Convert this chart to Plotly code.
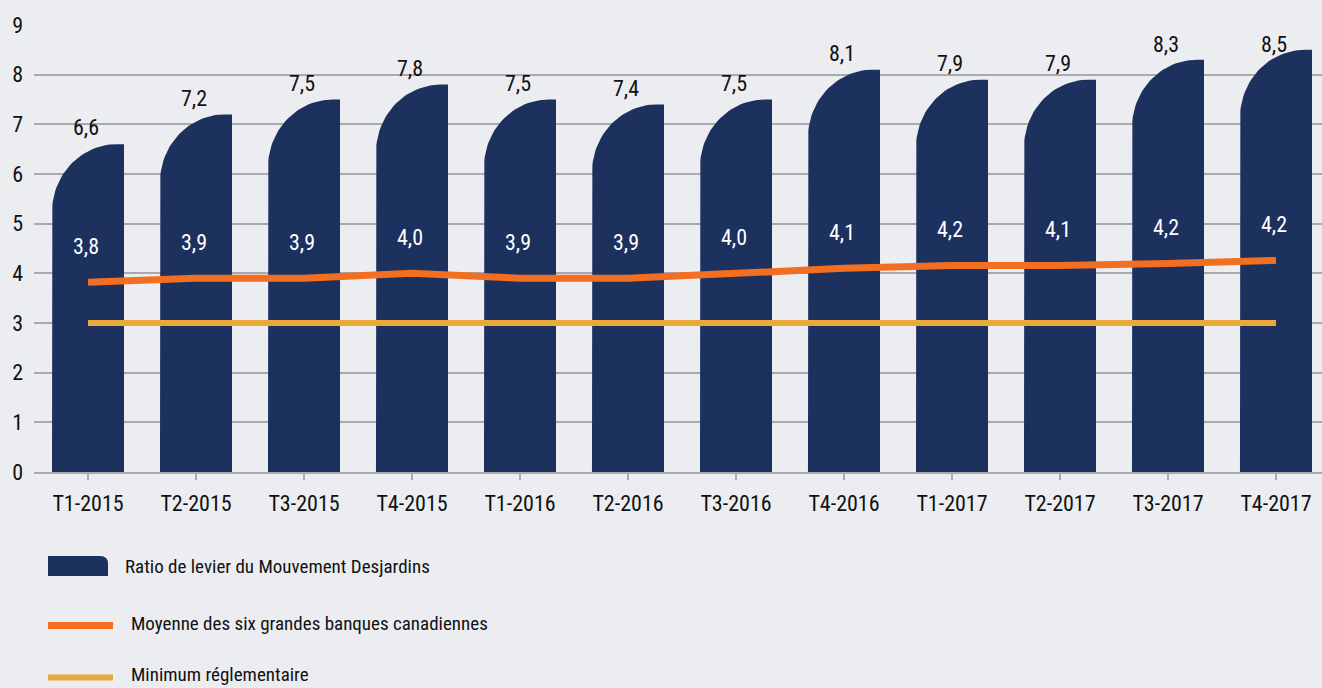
import numpy as np
import plotly.graph_objects as go

categories = ["T1-2015", "T2-2015", "T3-2015", "T4-2015", "T1-2016", "T2-2016",
              "T3-2016", "T4-2016", "T1-2017", "T2-2017", "T3-2017", "T4-2017"]
desjardins = [6.6, 7.2, 7.5, 7.8, 7.5, 7.4, 7.5, 8.1, 7.9, 7.9, 8.3, 8.5]
desjardins_labels = ["6,6", "7,2", "7,5", "7,8", "7,5", "7,4", "7,5", "8,1", "7,9", "7,9", "8,3", "8,5"]
banks_avg = [3.82, 3.9, 3.9, 4.0, 3.9, 3.9, 4.0, 4.1, 4.16, 4.16, 4.2, 4.26]
banks_labels = ["3,8", "3,9", "3,9", "4,0", "3,9", "3,9", "4,0", "4,1", "4,2", "4,1", "4,2", "4,2"]
minimum = [3.0] * 12
yticks = [0, 1, 2, 3, 4, 5, 6, 7, 8, 9]

series_names = ["Ratio de levier du Mouvement Desjardins",
                "Moyenne des six grandes banques canadiennes",
                "Minimum réglementaire"]

NAVY = "#1C315E"
ORANGE = "#F26F22"
GOLD = "#E9A93B"
BG = "#ECEDF1"
GRID = "#A9AAAE"
TXT = "#111111"
FONT = "Roboto Condensed, Liberation Sans Narrow, sans-serif"

W, H = 1322, 688
ML, MR, MT, MB = 34, 0, 25, 216
PW = W - ML - MR
PH = H - MT - MB

xpos = list(range(len(categories)))
bar_w = 0.667
rx = 0.60   # horizontal radius of rounded top-left corner (category units)
ry = 1.37   # vertical radius (value units)

# Bar outlines (square bottom, rounded top-left) built from the data values
bx, by = [], []
t = np.linspace(0, np.pi / 2, 30)
for xi, v in zip(xpos, desjardins):
    left, right = xi - bar_w / 2, xi + bar_w / 2
    bx += [left, left]
    by += [0, v - ry]
    bx += list(left + rx - rx * np.cos(t))
    by += list(v - ry + ry * np.sin(t))
    bx += [right, right, left, None]
    by += [v, 0, 0, None]

fig = go.Figure()
fig.add_trace(go.Scatter(x=bx, y=by, mode="lines", fill="toself", fillcolor=NAVY,
                         line=dict(width=0, color=NAVY), name=series_names[0],
                         hoverinfo="skip", showlegend=False))
fig.add_trace(go.Scatter(x=xpos, y=minimum, mode="lines", line=dict(color=GOLD, width=6),
                         name=series_names[2], showlegend=False))
fig.add_trace(go.Scatter(x=xpos, y=banks_avg, mode="lines", line=dict(color=ORANGE, width=7),
                         name=series_names[1], showlegend=False))

annotations = []
for xi, v, lab in zip(xpos, desjardins, desjardins_labels):
    annotations.append(dict(x=xi, y=min(v + 0.33, 8.6), text=lab, showarrow=False,
                            xshift=-2, yanchor="middle",
                            font=dict(family=FONT, size=22, color=TXT)))
for xi, v, lab in zip(xpos, banks_avg, banks_labels):
    annotations.append(dict(x=xi, y=v, text=lab, showarrow=False, xshift=-2, yshift=36,
                            yanchor="middle",
                            font=dict(family=FONT, size=22, color="white")))


def px_x(px):
    return (px - ML) / PW


def px_y(py):
    return (H - MB - py) / PH


# Manual legend
shapes = []
x0, x1, yt, yb, r = 48, 108, 556, 576, 8
shapes.append(dict(
    type="path", xref="paper", yref="paper", fillcolor=NAVY, line=dict(width=0),
    path=(f"M {px_x(x0)},{px_y(yb)} L {px_x(x0)},{px_y(yt)} L {px_x(x1 - r)},{px_y(yt)} "
          f"Q {px_x(x1)},{px_y(yt)} {px_x(x1)},{px_y(yt + r)} L {px_x(x1)},{px_y(yb)} Z")))
shapes.append(dict(type="line", xref="paper", yref="paper", x0=px_x(48), x1=px_x(113),
                   y0=px_y(625.5), y1=px_y(625.5), line=dict(color=ORANGE, width=7)))
shapes.append(dict(type="line", xref="paper", yref="paper", x0=px_x(48), x1=px_x(113),
                   y0=px_y(677.5), y1=px_y(677.5), line=dict(color=GOLD, width=6)))

legend_text = [(123, 566, series_names[0]), (129, 623, series_names[1]), (129, 674, series_names[2])]
for lx, ly, txt in legend_text:
    annotations.append(dict(x=px_x(lx), y=px_y(ly), xref="paper", yref="paper", text=txt,
                            showarrow=False, xanchor="left", yanchor="middle",
                            font=dict(family=FONT, size=19, color=TXT)))

fig.update_layout(
    width=W, height=H,
    margin=dict(l=ML, r=MR, t=MT, b=MB),
    paper_bgcolor=BG, plot_bgcolor=BG,
    showlegend=False,
    annotations=annotations,
    shapes=shapes,
    font=dict(family=FONT, size=22, color=TXT),
    xaxis=dict(range=[-0.5, 11.426], tickmode="array", tickvals=xpos, ticktext=categories,
               showgrid=False, zeroline=False, showline=True, linecolor=GRID, linewidth=1.5,
               ticks="outside", ticklen=6, tickcolor=GRID, tickwidth=1.5,
               ticklabelstandoff=5, tickfont=dict(family=FONT, size=22, color=TXT),
               fixedrange=True),
    yaxis=dict(range=[0, 9], tickmode="array", tickvals=yticks, ticktext=[str(v) for v in yticks],
               showgrid=True, gridcolor=GRID, gridwidth=1.5, zeroline=False, showline=False,
               ticks="", ticklabelstandoff=10,
               tickfont=dict(family=FONT, size=22, color=TXT), fixedrange=True),
)

fig.write_html("out.html", config={"displayModeBar": False},
               post_script="document.body.style.margin='0px';")
